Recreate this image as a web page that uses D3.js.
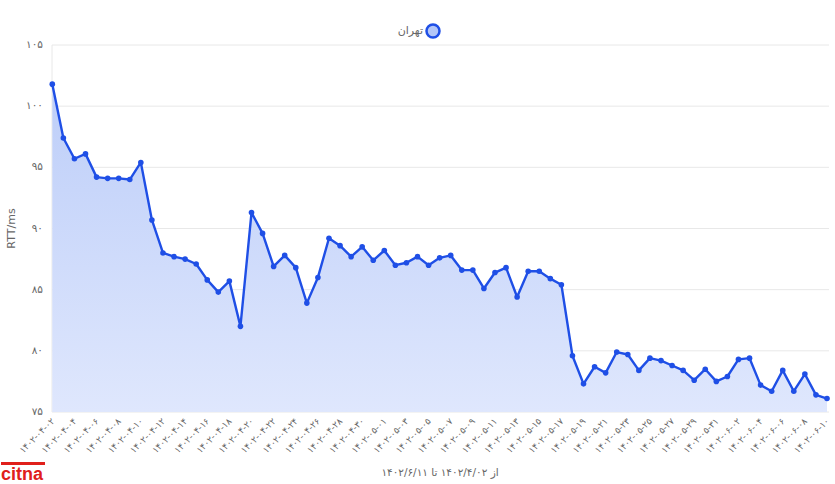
<!DOCTYPE html>
<html>
<head>
<meta charset="utf-8">
<script src="https://cdn.jsdelivr.net/npm/d3@7"></script>
<style>
  body { margin: 0; background: #fff; }
  svg { display: block; font-family: "DejaVu Sans", sans-serif; }
</style>
</head>
<body>
<div class="draw"></div>
<script>
const width = 835
const height = 484
const margin = {top: 45, right: 8, bottom: 72, left: 52}

const seriesName = "تهران"
const yTitle = "RTT/ms"
const xTitle = "از ۱۴۰۲/۴/۰۲ تا ۱۴۰۲/۶/۱۱"
const yTicks = [75, 80, 85, 90, 95, 100, 105]

const dates = [
  "1402-04-02","1402-04-03","1402-04-04","1402-04-05","1402-04-06","1402-04-07","1402-04-08","1402-04-09",
  "1402-04-10","1402-04-11","1402-04-12","1402-04-13","1402-04-14","1402-04-15","1402-04-16","1402-04-17",
  "1402-04-18","1402-04-19","1402-04-20","1402-04-21","1402-04-22","1402-04-23","1402-04-24","1402-04-25",
  "1402-04-26","1402-04-27","1402-04-28","1402-04-29","1402-04-30","1402-04-31",
  "1402-05-01","1402-05-02","1402-05-03","1402-05-04","1402-05-05","1402-05-06","1402-05-07","1402-05-08",
  "1402-05-09","1402-05-10","1402-05-11","1402-05-12","1402-05-13","1402-05-14","1402-05-15","1402-05-16",
  "1402-05-17","1402-05-18","1402-05-19","1402-05-20","1402-05-21","1402-05-22","1402-05-23","1402-05-24",
  "1402-05-25","1402-05-26","1402-05-27","1402-05-28","1402-05-29","1402-05-30","1402-05-31",
  "1402-06-01","1402-06-02","1402-06-03","1402-06-04","1402-06-05","1402-06-06","1402-06-07","1402-06-08",
  "1402-06-09","1402-06-10"
]

const rtt = [
  101.8, 97.4, 95.7, 96.1, 94.2, 94.1, 94.1, 94.0, 95.4, 90.7,
  88.0, 87.7, 87.5, 87.1, 85.8, 84.8, 85.7, 82.0, 91.3, 89.6,
  86.9, 87.8, 86.8, 83.9, 86.0, 89.2, 88.6, 87.7, 88.5, 87.4,
  88.2, 87.0, 87.2, 87.7, 87.0, 87.6, 87.8, 86.6, 86.6, 85.1,
  86.4, 86.8, 84.4, 86.5, 86.5, 85.9, 85.4, 79.6, 77.3, 78.7,
  78.2, 79.9, 79.7, 78.4, 79.4, 79.2, 78.8, 78.4, 77.6, 78.5,
  77.5, 77.9, 79.3, 79.4, 77.2, 76.7, 78.4, 76.7, 78.1, 76.4,
  76.1
]

// latin digits -> persian digits
function fa(s){
  return String(s).replace(/[0-9]/g, (d) => "۰۱۲۳۴۵۶۷۸۹"[+d])
}

const lineColor = "#1f4fe6"
const gridColor = "#e8e8e8"
const textColor = "#666"

let svg = d3.select("div.draw")
    .append("svg")
    .attr("width", width)
    .attr("height", height)

let x = d3.scalePoint()
    .domain(dates)
    .range([margin.left + 0.3, width - margin.right])

let y = d3.scaleLinear()
    .domain([75, 105])
    .range([height - margin.bottom, margin.top])

let defs = svg.append("defs")
let grad = defs.append("linearGradient")
    .attr("id", "fillGrad")
    .attr("x1", 0).attr("x2", 0).attr("y1", 0).attr("y2", 1)
    .attr("gradientUnits", "userSpaceOnUse")
    .attr("y1", margin.top).attr("y2", height - margin.bottom)
grad.append("stop").attr("offset", "0%").attr("stop-color", "#b9cbf8")
grad.append("stop").attr("offset", "100%").attr("stop-color", "#dfe7fd")

// horizontal grid
svg.append("g")
  .selectAll("line")
  .data(yTicks)
  .enter()
  .append("line")
  .attr("x1", margin.left)
  .attr("x2", width - 6)
  .attr("y1", (d) => y(d))
  .attr("y2", (d) => y(d))
  .style("stroke", gridColor)
  .style("stroke-width", 1)

// left border
svg.append("line")
  .attr("x1", margin.left).attr("x2", margin.left)
  .attr("y1", margin.top).attr("y2", height - margin.bottom)
  .style("stroke", gridColor)

// y tick labels
svg.append("g")
  .selectAll("text")
  .data(yTicks)
  .enter()
  .append("text")
  .attr("x", margin.left - 9)
  .attr("y", (d) => y(d))
  .attr("text-anchor", "end")
  .attr("dominant-baseline", "middle")
  .style("font-size", "10.5px")
  .style("fill", textColor)
  .text((d) => fa(d))

svg.append("text")
  .attr("transform", "translate(15," + ((margin.top + height - margin.bottom) / 2) + ") rotate(-90)")
  .attr("text-anchor", "middle")
  .style("font-size", "11px")
  .style("fill", textColor)
  .text(yTitle)

// area + line
let area = d3.area()
    .x((d, i) => x(dates[i]))
    .y0(y(75))
    .y1((d) => y(d))

let line = d3.line()
    .x((d, i) => x(dates[i]))
    .y((d) => y(d))

svg.append("path")
  .attr("d", area(rtt))
  .style("fill", "url(#fillGrad)")

svg.append("path")
  .attr("d", line(rtt))
  .style("fill", "none")
  .style("stroke", lineColor)
  .style("stroke-width", 2.4)
  .style("stroke-linejoin", "round")

svg.append("g")
  .selectAll("circle")
  .data(rtt)
  .enter()
  .append("circle")
  .attr("cx", (d, i) => x(dates[i]))
  .attr("cy", (d) => y(d))
  .attr("r", 2.8)
  .style("fill", lineColor)

// x tick labels, every second day
let labelDates = dates.filter((d, i) => i % 2 === 0)
svg.append("g")
  .selectAll("text")
  .data(labelDates)
  .enter()
  .append("text")
  .attr("transform", (d) => "translate(" + (x(d) + 1) + "," + (height - margin.bottom + 8) + ") rotate(-45)")
  .attr("text-anchor", "end")
  .attr("dominant-baseline", "middle")
  .style("font-size", "9px")
  .style("fill", textColor)
  .text((d) => fa(d))

svg.append("text")
  .attr("x", 440)
  .attr("y", 476)
  .attr("text-anchor", "middle")
  .attr("direction", "rtl")
  .style("font-size", "10.5px")
  .style("fill", textColor)
  .text(xTitle)

// legend
let legend = svg.append("g").attr("transform", "translate(433,31)")
legend.append("circle")
  .attr("r", 6.5)
  .style("fill", "#b3c6f8")
  .style("stroke", lineColor)
  .style("stroke-width", 2.5)
legend.append("text")
  .attr("x", -10)
  .attr("y", 0)
  .attr("text-anchor", "end")
  .attr("dominant-baseline", "middle")
  .style("font-size", "11px")
  .style("fill", textColor)
  .text(seriesName)

// logo
let logo = svg.append("g").attr("transform", "translate(1,462)")
logo.append("rect")
  .attr("width", 44).attr("height", 3)
  .style("fill", "#e0201b")
logo.append("text")
  .attr("x", 0)
  .attr("y", 18)
  .style("font-family", "Liberation Sans, sans-serif")
  .style("font-weight", "bold")
  .style("font-size", "18px")
  .style("fill", "#e0201b")
  .text("citna")
</script>
</body>
</html>
